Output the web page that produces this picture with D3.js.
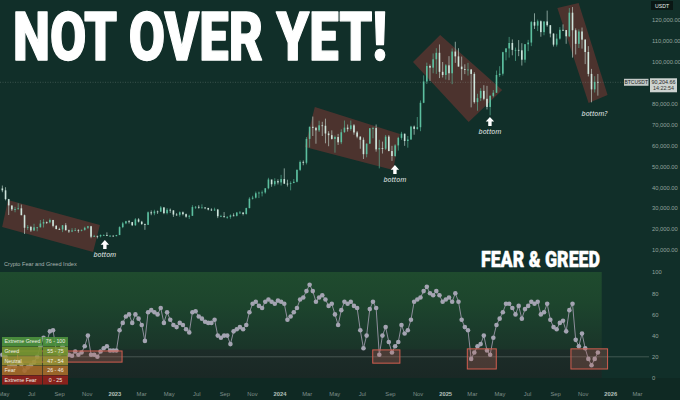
<!DOCTYPE html>
<html><head><meta charset="utf-8">
<script src="https://cdn.jsdelivr.net/npm/d3@7"></script>
<style>html,body{margin:0;padding:0;background:#112f29;}svg{display:block}</style>
</head><body><svg id="c" width="680" height="400"></svg>
<script>
// ---------- DATA (weekly BTCUSDT, thousands of USDT; weeks start Monday) ----------
const weekStart = "2022-04-25";
const firstOpen = 39.4;
const priceHigh = [
40.8,40.0,34.4,31.0,30.6,32.3,31.7,26.9,21.9,21.5,22.5,21.0,24.3,24.7,23.6,25.0,24.4,21.9,20.6,21.9,22.8,19.7,20.4,20.5,19.9,19.7,21.1,21.5,21.5,17.2,16.8,17.4,17.4,18.4,17.0,16.9,
17.2,21.3,23.4,23.9,24.3,23.4,25.2,25.2,23.9,22.6,28.4,28.9,29.2,28.8,31.0,30.5,30.0,29.8,29.0,27.6,28.4,28.4,27.4,26.8,31.4,31.0,31.4,31.8,30.4,30.0,29.9,30.2,29.6,26.8,28.1,26.1,27.0,27.5,28.0,28.6,27.9,30.2,35.2,35.9,37.9,37.9,38.4,39.5,44.5,43.4,44.3,43.8,
45.9,49.0,43.6,42.8,43.9,48.5,52.8,52.8,64.0,69.0,73.8,68.9,71.8,71.3,72.8,66.8,67.2,64.7,65.5,67.7,71.9,70.0,71.9,70.2,66.9,64.3,63.8,61.0,68.3,68.9,70.0,62.7,61.8,65.0,64.9,59.8,60.6,64.1,66.5,65.6,64.5,69.4,69.5,73.6,81.5,93.5,99.6,98.7,104.0,106.5,108.3,99.9,98.9,
102.7,106.4,109.6,106.5,102.5,98.8,99.5,96.5,95.0,84.7,87.4,88.8,88.5,84.0,86.5,95.8,97.9,104.8,106.5,111.9,110.7,106.8,110.4,108.9,108.5,110.5,119.5,123.2,120.2,119.8,119.3,124.5,117.6,113.6,113.4,116.6,117.9,114.0,125.7,126.2,116.0,115.5,116.4,110.8,107.5,96.6,93.1,94.2];
const priceLow = [
37.6,33.7,26.7,28.6,28.0,29.3,26.6,17.6,19.6,18.6,19.0,18.9,20.8,20.7,22.4,22.7,20.8,19.8,19.5,18.5,19.3,18.1,18.5,19.2,18.2,18.9,19.2,20.0,15.6,16.2,15.5,16.0,16.8,16.6,16.3,16.4,
16.5,17.1,20.4,22.3,22.6,21.4,21.5,23.1,21.9,19.6,21.9,26.6,26.6,27.2,28.2,27.1,27.0,27.7,25.8,26.4,25.9,26.5,25.4,24.8,26.3,29.6,29.7,29.9,29.5,28.9,28.6,28.7,25.2,25.8,25.4,24.9,24.9,26.1,26.0,27.2,26.5,26.9,29.9,34.1,34.6,34.8,35.6,36.9,39.0,40.2,40.5,41.3,
40.8,41.5,40.3,38.5,41.9,42.3,47.7,50.5,50.9,59.0,64.5,60.8,66.4,64.5,61.0,59.6,62.8,56.5,60.2,60.6,66.1,66.6,67.0,65.1,63.4,58.4,53.5,54.3,61.0,63.4,57.0,49.0,56.1,57.8,57.2,52.6,54.6,57.5,62.7,59.8,58.9,62.8,65.1,67.5,66.8,80.2,89.4,90.8,94.5,94.2,92.2,92.5,91.5,
91.2,89.3,99.5,97.8,91.2,94.1,93.4,78.2,80.0,76.6,81.2,81.6,77.2,74.4,83.0,85.1,92.8,93.4,100.7,102.0,103.1,100.4,102.7,98.2,99.6,105.1,107.5,115.7,114.7,112.0,112.7,116.8,111.7,107.3,107.3,110.6,114.7,108.6,111.8,102.0,103.5,106.6,106.3,98.9,93.0,80.6,85.3,83.8];
const priceClose = [
38.5,34.3,31.3,29.4,29.5,29.9,26.6,20.6,21.0,19.3,20.8,20.8,22.6,23.3,23.2,24.3,21.5,20.0,19.8,21.8,19.4,18.8,19.3,19.4,19.2,19.6,20.6,21.3,16.3,16.7,16.5,17.1,17.1,16.8,16.8,16.6,
17.1,20.9,22.7,23.7,23.3,21.8,24.6,23.5,22.4,22.0,28.0,27.5,28.4,28.3,30.3,27.6,29.2,28.9,26.9,26.8,28.0,27.1,25.9,26.3,30.5,30.6,30.2,30.3,30.1,29.3,29.0,29.3,26.1,26.1,25.8,25.8,26.5,26.3,27.9,27.9,27.2,30.0,34.5,35.0,37.1,37.4,37.5,39.5,43.7,41.4,42.9,42.3,
43.9,41.7,41.6,42.0,42.6,48.3,52.1,51.7,63.1,68.9,68.4,67.2,69.6,69.4,65.7,64.9,63.1,64.0,61.5,66.3,68.5,67.8,69.6,66.2,64.2,62.7,55.8,60.8,68.2,68.3,58.1,58.7,58.4,64.2,57.3,54.9,60.0,63.6,65.6,62.1,62.8,69.0,67.9,68.7,80.4,90.6,98.0,97.2,101.2,104.3,95.2,93.7,98.3,
94.5,104.9,102.6,97.7,96.5,96.1,96.3,94.2,80.7,82.6,86.1,82.3,78.4,83.7,85.2,93.7,94.3,104.6,106.4,109.0,105.7,105.7,105.5,101.0,108.4,109.2,119.0,117.3,119.4,114.2,119.3,117.5,113.5,108.2,111.1,115.3,115.2,112.2,123.5,115.1,108.6,114.5,110.6,104.7,94.2,86.8,90.4,90.2];
const fearGreed = [
22,20,10,12,11,15,13,7,10,12,15,20,30,38,34,44,45,26,23,30,27,22,21,25,22,24,30,40,22,22,20,25,28,30,26,26,
26,45,52,58,60,52,60,56,50,35,62,64,62,60,66,52,62,55,50,48,52,50,46,43,62,63,58,56,53,52,52,55,40,38,40,40,32,44,46,48,46,50,62,70,72,68,66,72,74,72,70,73,
72,70,55,58,62,66,74,76,82,88,82,72,76,78,74,68,70,60,50,64,72,70,72,68,66,45,28,40,65,72,66,22,40,48,34,24,30,34,50,42,45,55,72,74,76,82,86,80,78,82,78,72,74,
76,72,80,72,55,48,45,18,24,30,32,40,26,22,38,50,56,62,70,70,66,60,68,56,65,68,72,70,72,60,62,70,55,48,46,52,54,44,64,70,36,30,42,28,18,12,18,24];
const lastPriceText = "90,204.66";
const lastTimeText = "14:22:54";
const priceTicks = [120,110,100,80,70,60,50,40,30,20,10];
const fgTicks = [100,80,60,40,20,0];
const fgLevel = 20;
const fgZoneLabels = ["Extreme Greed","Greed","Neutral","Fear","Extreme Fear"];
const fgZoneRanges = ["76 - 100","55 - 75","47 - 54","26 - 46","0 - 25"];
const fgZoneColors = ["rgba(78,148,62,0.9)","rgba(118,152,48,0.9)","rgba(158,150,52,0.88)","rgba(168,108,42,0.9)","rgba(146,34,28,0.92)"];
// highlighted channels on price (corner points: date, price k)
const priceChannels = [
  [["2022-05-11",33.9],["2022-11-30",21.9],["2022-11-15",9.0],["2022-04-28",21.0]],
  [["2024-03-19",78.4],["2024-09-23",65.5],["2024-09-08",48.2],["2024-02-26",59.2]],
  [["2024-10-22",99.9],["2024-12-21",112.8],["2025-05-07",86.5],["2025-02-22",71.2]],
  [["2025-09-06",125.7],["2025-10-23",128.1],["2025-12-26",84.1],["2025-11-14",80.3]]
];
// extreme-fear boxes on the index
const fgBoxFrom = ["2022-06-01","2024-07-25","2025-02-19","2025-10-06"];
const fgBoxTo   = ["2023-01-18","2024-09-23","2025-04-24","2025-12-26"];
const fgBoxLo   = [15,14,8.5,8.5];
const fgBoxHi   = [25.5,26.5,27.5,27.5];
// "bottom" marks (date, price k at arrow tip)
const markDates  = ["2022-12-11","2024-09-12","2025-04-10","2025-11-27"];
const markPrices = [14.7,50.6,73.6,82.2];
const markLabels = ["bottom","bottom","bottom","bottom?"];
const markArrows = [true,true,true,false];
const panelEnd = "2025-12-13";

// ---------- SCALES ----------
const parse = d3.utcParse("%Y-%m-%d");
const svg = d3.select("#c");
const x = d3.scaleUtc().domain([parse("2022-05-01"), parse("2026-03-01")]).range([3.5, 637]);
const yP = d3.scaleLinear().domain([0, 120]).range([270.8, 20]);
const yF = d3.scaleLinear().domain([0, 100]).range([378, 272]);
const t0 = parse(weekStart);
const weeks = priceClose.map((_, i) => d3.utcHour.offset(d3.utcDay.offset(t0, i * 7), 84));

// background
svg.append("rect").attr("width", 680).attr("height", 400).attr("fill", "#112f29");
svg.append("rect").attr("x", 0).attr("y", yF(0)).attr("width", 680).attr("height", 400 - yF(0)).attr("fill", "#0f2923");

// F&G panel gradient
const defs = svg.append("defs");
const g = defs.append("linearGradient").attr("id", "fgbg").attr("gradientUnits", "userSpaceOnUse")
  .attr("x1", 0).attr("x2", 0).attr("y1", yF(100)).attr("y2", yF(0));
[[0, "#1f4b2e"], [0.3, "#1d452d"], [0.5, "#1b3d2c"], [0.72, "#1a3529"], [0.74, "#1c2c28"], [1, "#1a2825"]]
  .forEach(([o, c]) => g.append("stop").attr("offset", o).attr("stop-color", c));
svg.append("rect").attr("x", 0).attr("y", yF(100)).attr("width", x(parse(panelEnd))).attr("height", yF(0) - yF(100)).attr("fill", "url(#fgbg)");

// level line on index
svg.append("line").attr("x1", 0).attr("x2", 649).attr("y1", yF(fgLevel)).attr("y2", yF(fgLevel))
  .attr("stroke", "rgba(150,160,158,0.45)").attr("stroke-width", 0.8);

// price channels
svg.append("g").selectAll("polygon").data(priceChannels).join("polygon")
  .attr("points", d => d.map(p => [x(parse(p[0])), yP(p[1])].join(",")).join(" "))
  .attr("fill", "rgba(135,55,52,0.5)");

// current price dotted line
const lastY = yP(priceClose[priceClose.length - 1]);
svg.append("line").attr("x1", 0).attr("x2", 624).attr("y1", lastY).attr("y2", lastY)
  .attr("stroke", "rgba(160,175,170,0.4)").attr("stroke-width", 0.7).attr("stroke-dasharray", "1,1.5");

// candles
const cg = svg.append("g");
priceClose.forEach((c, i) => {
  const o = i === 0 ? firstOpen : priceClose[i - 1];
  const up = c >= o;
  const cx = x(weeks[i]);
  const col = up ? "#5cbf9f" : "#cfe6dd";
  cg.append("line").attr("x1", cx).attr("x2", cx).attr("y1", yP(priceHigh[i])).attr("y2", yP(priceLow[i]))
    .attr("stroke", col).attr("stroke-width", 0.6);
  const y1 = yP(Math.max(o, c)), y2 = yP(Math.min(o, c));
  cg.append("rect").attr("x", cx - 0.8).attr("width", 1.6).attr("y", y1).attr("height", Math.max(0.8, y2 - y1)).attr("fill", col);
});

// F&G line + dots
const fgLine = d3.line().x((d, i) => x(weeks[i])).y(d => yF(d));
svg.append("path").datum(fearGreed).attr("d", fgLine).attr("fill", "none").attr("stroke", "#8e8e9c").attr("stroke-width", 1);
svg.append("g").selectAll("circle").data(fearGreed).join("circle")
  .attr("cx", (d, i) => x(weeks[i])).attr("cy", d => yF(d)).attr("r", 2.3).attr("fill", "#a4a4b2");

// F&G boxes
svg.append("g").selectAll("rect").data(fgBoxFrom).join("rect")
  .attr("x", (d, i) => x(parse(d))).attr("width", (d, i) => x(parse(fgBoxTo[i])) - x(parse(d)))
  .attr("y", (d, i) => yF(fgBoxHi[i])).attr("height", (d, i) => yF(fgBoxLo[i]) - yF(fgBoxHi[i]))
  .attr("fill", "rgba(180,95,85,0.3)").attr("stroke", "#d25e50").attr("stroke-width", 1);

// legend
const lg = svg.append("g").attr("font-family", "Liberation Sans, Arial, sans-serif").attr("font-size", 5.3).attr("fill", "#f1efe4");
const rowH = 9.6, lx = 2, ly = 337;
fgZoneLabels.forEach((lab, i) => {
  lg.append("rect").attr("x", lx).attr("y", ly + i * rowH).attr("width", 40).attr("height", rowH - 0.4).attr("fill", fgZoneColors[i]);
  lg.append("rect").attr("x", lx + 40.6).attr("y", ly + i * rowH).attr("width", 25.4).attr("height", rowH - 0.4).attr("fill", fgZoneColors[i]);
  lg.append("text").attr("x", lx + 2.5).attr("y", ly + i * rowH + 6.4).text(lab);
  lg.append("text").attr("x", lx + 53.5).attr("y", ly + i * rowH + 6.4).attr("text-anchor", "middle").text(fgZoneRanges[i]);
});

// right price axis
const ra = svg.append("g").attr("transform", "translate(652,0)")
  .call(d3.axisRight(yP).tickValues(priceTicks).tickSize(0).tickPadding(0).tickFormat(v => d3.format(",.2f")(v * 1000)));
ra.select(".domain").remove();
ra.selectAll("text").attr("font-size", 5.8).attr("fill", "#93a39e").attr("font-family", "Liberation Sans, Arial, sans-serif");

// right F&G axis
const fa = svg.append("g").attr("transform", "translate(652,0)")
  .call(d3.axisRight(yF).tickValues(fgTicks).tickSize(0).tickPadding(0));
fa.select(".domain").remove();
fa.selectAll("text").attr("font-size", 5.8).attr("fill", "#93a39e").attr("font-family", "Liberation Sans, Arial, sans-serif");

// bottom time axis
const monthTicks = d3.utcMonth.every(2).range(parse("2022-05-01"), parse("2026-03-02"));
const ba = svg.append("g").attr("transform", "translate(0,392)")
  .call(d3.axisBottom(x).tickValues(monthTicks).tickSize(0).tickPadding(0)
    .tickFormat(d => d.getUTCMonth() === 0 ? String(d.getUTCFullYear()) : d3.utcFormat("%b")(d)));
ba.select(".domain").remove();
ba.selectAll("text").attr("font-size", 5.8).attr("font-family", "Liberation Sans, Arial, sans-serif")
  .attr("fill", d => d.getUTCMonth() === 0 ? "#b4c0bc" : "#7f8f8a")
  .attr("font-weight", d => d.getUTCMonth() === 0 ? "bold" : "normal");

// USDT tag
svg.append("rect").attr("x", 651).attr("y", 1).attr("width", 22).attr("height", 9).attr("fill", "#0a1714");
svg.append("text").attr("x", 662).attr("y", 7.6).attr("text-anchor", "middle").attr("font-size", 5.2)
  .attr("font-family", "Liberation Sans, Arial, sans-serif").attr("fill", "#e6eeeb").text("USDT");

// last price tags
svg.append("rect").attr("x", 624).attr("y", lastY - 3.5).attr("width", 24.5).attr("height", 7).attr("fill", "#c3cac7");
svg.append("text").attr("x", 636.2).attr("y", lastY + 1.9).attr("text-anchor", "middle").attr("font-size", 5)
  .attr("font-family", "Liberation Sans, Arial, sans-serif").attr("fill", "#222").text("BTCUSDT");
svg.append("rect").attr("x", 650).attr("y", lastY - 4).attr("width", 27).attr("height", 14).attr("fill", "#cdd3d0");
svg.append("text").attr("x", 663.5).attr("y", lastY + 1.8).attr("text-anchor", "middle").attr("font-size", 5.4)
  .attr("font-family", "Liberation Sans, Arial, sans-serif").attr("fill", "#222").text(lastPriceText);
svg.append("text").attr("x", 663.5).attr("y", lastY + 8.2).attr("text-anchor", "middle").attr("font-size", 5.4)
  .attr("font-family", "Liberation Sans, Arial, sans-serif").attr("fill", "#333").text(lastTimeText);

// marks
markDates.forEach((d, i) => {
  const mx = x(parse(d)), my = yP(markPrices[i]);
  if (markArrows[i]) {
    svg.append("path").attr("transform", `translate(${mx},${my})`)
      .attr("d", "M0,0 L4.2,4.6 L1.7,4.6 L1.7,9 L-1.7,9 L-1.7,4.6 L-4.2,4.6 Z").attr("fill", "#ffffff");
  }
  svg.append("text").attr("x", mx).attr("y", my + 17).attr("text-anchor", "middle")
    .attr("font-size", 7).attr("font-style", "italic").attr("font-family", "Noto Sans, DejaVu Sans, sans-serif")
    .attr("fill", "#e4ebe8").text(markLabels[i]);
});

// indicator label
svg.append("text").attr("x", 4).attr("y", yF(100) - 6).attr("font-size", 5.6)
  .attr("font-family", "Liberation Sans, Arial, sans-serif").attr("fill", "#a9b5b1").text("Crypto Fear and Greed Index");

// titles: font size chosen so natural width matches, then stretched vertically to the cap height
function fitTitle(txt, x0, y0, capH, targetW) {
  const t = svg.append("text").attr("font-family", "Roboto, Inter, sans-serif").attr("font-weight", 900)
    .attr("font-size", 100).attr("fill", "#ffffff").attr("stroke", "#ffffff")
    .attr("stroke-linejoin", "round").text(txt);
  const w = t.node().getComputedTextLength();
  const size = 100 * targetW / w;
  t.attr("font-size", size).attr("stroke-width", size * 0.02);
  const sy = capH / (size * 0.711);
  t.attr("transform", `translate(${x0},${y0}) scale(1,${sy})`);
}
fitTitle("NOT OVER YET!", 13, 60, 47, 374);
fitTitle("FEAR & GREED", 481, 267, 16, 119);
</script>
</body></html>
